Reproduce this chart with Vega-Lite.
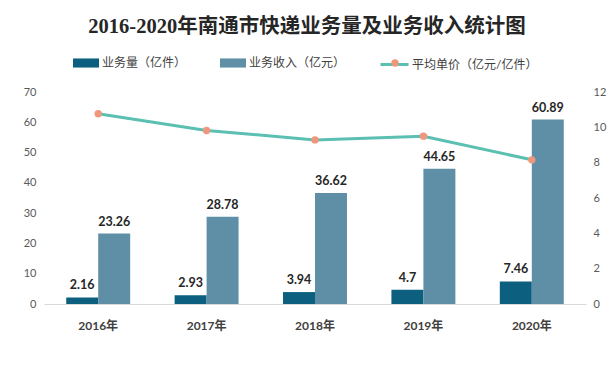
{
  "$schema": "https://vega.github.io/schema/vega-lite/v6.json",
  "width": 542,
  "height": 212,
  "autosize": {"type": "none"},
  "padding": {"left": 44, "top": 92, "right": 29, "bottom": 70},
  "background": "white",
  "title": {
    "text": "2016-2020年南通市快递业务量及业务收入统计图",
    "font": "Liberation Serif, Noto Sans CJK SC",
    "fontSize": 20.5,
    "fontWeight": "bold",
    "color": "#262626",
    "anchor": "middle",
    "frame": "group",
    "dx": -8,
    "offset": 12
  },
  "config": {
    "view": {"stroke": null},
    "font": "Lato, Noto Sans CJK SC",
    "legend": {"padding": 0, "titlePadding": 0}
  },
  "datasets": {
    "bars": [
      {"year": "2016年", "series": "业务量（亿件）", "value": 2.16},
      {"year": "2016年", "series": "业务收入（亿元）", "value": 23.26},
      {"year": "2017年", "series": "业务量（亿件）", "value": 2.93},
      {"year": "2017年", "series": "业务收入（亿元）", "value": 28.78},
      {"year": "2018年", "series": "业务量（亿件）", "value": 3.94},
      {"year": "2018年", "series": "业务收入（亿元）", "value": 36.62},
      {"year": "2019年", "series": "业务量（亿件）", "value": 4.7},
      {"year": "2019年", "series": "业务收入（亿元）", "value": 44.65},
      {"year": "2020年", "series": "业务量（亿件）", "value": 7.46},
      {"year": "2020年", "series": "业务收入（亿元）", "value": 60.89}
    ],
    "price": [
      {"year": "2016年", "price": 10.77},
      {"year": "2017年", "price": 9.82},
      {"year": "2018年", "price": 9.29},
      {"year": "2019年", "price": 9.5},
      {"year": "2020年", "price": 8.16}
    ]
  },
  "layer": [
    {
      "data": {"name": "bars"},
      "encoding": {
        "x": {
          "field": "year",
          "type": "nominal",
          "scale": {"paddingInner": 0.41, "paddingOuter": 0.205},
          "axis": {
            "title": null,
            "labelAngle": 0,
            "ticks": false,
            "domainColor": "#d9d9d9",
            "labelFontWeight": "bold",
            "labelFontSize": 12,
            "labelColor": "#404040",
            "labelPadding": 16
          }
        },
        "xOffset": {
          "field": "series",
          "sort": ["业务量（亿件）", "业务收入（亿元）"],
          "scale": {"paddingInner": 0}
        },
        "y": {
          "field": "value",
          "type": "quantitative",
          "scale": {"domain": [0, 70]},
          "axis": {
            "title": null,
            "values": [0, 10, 20, 30, 40, 50, 60, 70],
            "grid": false,
            "ticks": false,
            "domain": false,
            "labelColor": "#595959",
            "labelFontSize": 11,
            "labelPadding": 8
          }
        }
      },
      "layer": [
        {
          "mark": {"type": "bar"},
          "encoding": {
            "fill": {
              "field": "series",
              "type": "nominal",
              "sort": ["业务量（亿件）", "业务收入（亿元）"],
              "scale": {
                "domain": ["业务量（亿件）", "业务收入（亿元）"],
                "range": ["#0d5f80", "#5e8fa7"]
              },
              "legend": {
                "title": null,
                "orient": "none",
                "direction": "horizontal",
                "legendX": 29,
                "legendY": -42,
                "symbolType": "M-1,-0.35L1,-0.35L1,0.35L-1,0.35Z",
                "symbolSize": 676,
                "symbolStrokeWidth": 0,
                "labelFontSize": 12,
                "labelColor": "#404040",
                "labelOffset": 3,
                "columnPadding": 33,
                "labelLimit": 200
              }
            }
          }
        },
        {
          "mark": {
            "type": "text",
            "baseline": "bottom",
            "dy": -5,
            "fontSize": 12.5,
            "fontWeight": "bold",
            "color": "#262626"
          },
          "encoding": {
            "text": {"field": "value", "type": "quantitative"}
          }
        }
      ]
    },
    {
      "data": {"name": "price"},
      "encoding": {
        "x": {"field": "year", "type": "nominal"},
        "y": {
          "field": "price",
          "type": "quantitative",
          "scale": {"domain": [0, 12]},
          "axis": {
            "title": null,
            "orient": "right",
            "values": [0, 2, 4, 6, 8, 10, 12],
            "grid": false,
            "ticks": false,
            "domain": false,
            "labelColor": "#595959",
            "labelFontSize": 11,
            "labelPadding": 7
          }
        }
      },
      "layer": [
        {
          "mark": {"type": "line", "strokeWidth": 3},
          "encoding": {
            "stroke": {
              "datum": "平均单价（亿元/亿件）",
              "scale": {"range": ["#5bbfb2"]},
              "legend": {
                "title": null,
                "orient": "none",
                "legendX": 335,
                "legendY": -43,
                "symbolType": "M-1,0L1,0",
                "symbolSize": 784,
                "symbolStrokeWidth": 3,
                "labelFontSize": 12,
                "labelColor": "#404040",
                "labelOffset": 2,
                "labelLimit": 200
              }
            }
          }
        },
        {
          "mark": {"type": "point", "filled": true, "size": 55, "opacity": 1, "color": "#ef977c"},
          "encoding": {
            "shape": {
              "datum": "p",
              "scale": {"range": ["circle"]},
              "legend": {
                "title": null,
                "orient": "none",
                "legendX": 345,
                "legendY": -35,
                "symbolFillColor": "#ef977c",
                "symbolStrokeWidth": 0,
                "symbolSize": 55,
                "labelExpr": "''",
                "labelFontSize": 12
              }
            }
          }
        }
      ]
    }
  ],
  "resolve": {"scale": {"y": "independent"}}
}
